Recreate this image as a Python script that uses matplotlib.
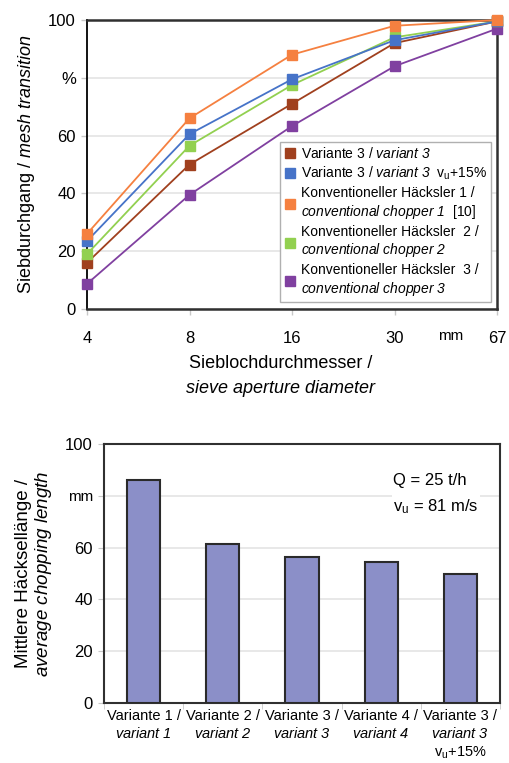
import numpy as np
import matplotlib
matplotlib.use("Agg")
import matplotlib.pyplot as plt
from matplotlib.lines import Line2D

plt.rcParams['font.family'] = ['Liberation Sans', 'DejaVu Sans']
plt.rcParams['mathtext.fontset'] = 'custom'
plt.rcParams['mathtext.rm'] = 'Liberation Sans'
plt.rcParams['mathtext.it'] = 'Liberation Sans:italic'
# sf used as an italic face that also slants the digits
plt.rcParams['mathtext.sf'] = 'Liberation Sans:italic'
plt.rcParams['mathtext.default'] = 'regular'

# --- data: sieve passing curves ---
sieve_labels = ['4', '8', '16', '30', '67']
variant3 = [16, 50, 71, 92, 99.5]
variant3_vu = [23.5, 60.5, 79.5, 93, 99.5]
chopper1 = [26, 66, 88, 98, 100]
chopper2 = [19, 56.5, 77.5, 94, 99.5]
chopper3 = [8.7, 39.5, 63.3, 84, 97]

series_names = [
    'Variante 3 / $\\mathsf{variant\\ 3}$',
    'Variante 3 / $\\mathsf{variant\\ 3}$  $\\mathrm{v}_\\mathrm{u}$+15%',
    'Konventioneller Häcksler 1 /\n$\\mathsf{conventional\\ chopper\\ 1}$  [10]',
    'Konventioneller Häcksler  2 /\n$\\mathsf{conventional\\ chopper\\ 2}$',
    'Konventioneller Häcksler  3 /\n$\\mathsf{conventional\\ chopper\\ 3}$',
]
series_values = [variant3, variant3_vu, chopper1, chopper2, chopper3]
series_colors = ['#a0401e', '#4673c8', '#f58040', '#92d050', '#8040a0']

# --- data: average chopping length ---
bar_labels = [
    'Variante 1 /\n$\\mathsf{variant\\ 1}$',
    'Variante 2 /\n$\\mathsf{variant\\ 2}$',
    'Variante 3 /\n$\\mathsf{variant\\ 3}$',
    'Variante 4 /\n$\\mathsf{variant\\ 4}$',
    'Variante 3 /\n$\\mathsf{variant\\ 3}$\n$\\mathrm{v}_\\mathrm{u}$+15%',
]
chop_length = [86, 61.5, 56.5, 54.5, 49.7]

W, H = 510, 763
fig = plt.figure(figsize=(W / 100, H / 100), dpi=100)

def px_axes(l, t, r, b):
    return fig.add_axes([l / W, 1 - b / H, (r - l) / W, (b - t) / H])

grid_c = '#e4e4e4'
spine_c = '#303030'

# ---------- top chart ----------
ax1 = px_axes(87, 20, 497, 309)
x = np.arange(len(sieve_labels))
order = [4, 0, 3, 1, 2]
for i in order:
    ax1.plot(x, series_values[i], color=series_colors[i], lw=1.3,
             marker='s', ms=6.5, mec=series_colors[i], clip_on=False, zorder=3)
ax1.set_xlim(0, 4)
ax1.set_ylim(0, 100)
ax1.set_yticks([0, 20, 40, 60, 80, 100])
ax1.set_yticklabels(['0', '20', '40', '60', '%', '100'], fontsize=12)
ax1.set_xticks(x)
ax1.set_xticklabels(sieve_labels, fontsize=12)
ax1.tick_params(axis='both', color='#c8c8c8', length=4, width=1)
ax1.tick_params(axis='x', pad=12)
ax1.tick_params(axis='y', pad=4)
ax1.yaxis.grid(True, color=grid_c, lw=1.2)
ax1.set_axisbelow(True)
for s in ax1.spines.values():
    s.set_color(spine_c)
    s.set_linewidth(1.8)
ax1.spines['left'].set_color('black')
ax1.spines['left'].set_linewidth(1.3)
ax1.text(3.55, -0.095, 'mm', transform=ax1.get_xaxis_transform(),
         ha='center', va='center', fontsize=11)
ax1.set_ylabel('Siebdurchgang / $\\mathsf{mesh\\ transition}$', fontsize=13, labelpad=8)
fig.text(281 / W, 1 - 363 / H, 'Sieblochdurchmesser /', ha='center', va='center', fontsize=13)
fig.text(281 / W, 1 - 388 / H, 'sieve aperture diameter', ha='center', va='center',
         fontsize=13, style='italic')

handles = [Line2D([], [], marker='s', ls='none', color=c, ms=6.5) for c in series_colors]
leg = ax1.legend(handles, series_names, loc='lower right', bbox_to_anchor=(0.985, 0.024),
                 borderaxespad=0, fontsize=10, frameon=True, fancybox=False,
                 edgecolor='#b0b0b0', handlelength=0.8, handletextpad=0.4,
                 labelspacing=0.28, borderpad=0.3, framealpha=1)
leg.get_frame().set_linewidth(1.0)

# ---------- bottom chart ----------
ax2 = px_axes(104, 444, 500, 703)
xb = np.arange(len(bar_labels))
ax2.bar(xb, chop_length, width=0.42, color='#8b8fc8', edgecolor='#2a2a2a', lw=1.5, zorder=3)
ax2.set_xlim(-0.5, 4.5)
ax2.set_ylim(0, 100)
ax2.set_yticks([0, 20, 40, 60, 80, 100])
ax2.set_yticklabels(['0', '20', '40', '60', 'mm', '100'], fontsize=12)
for lbl in ax2.get_yticklabels():
    if lbl.get_text() == 'mm':
        lbl.set_fontsize(11)
ax2.set_xticks(xb)
ax2.set_xticklabels(bar_labels, fontsize=10.5, linespacing=1.3, va='top')
ax2.set_xticks(np.arange(-0.5, 5, 1), minor=True)
ax2.tick_params(axis='x', which='major', length=0, pad=4)
ax2.tick_params(axis='x', which='minor', length=4, color='#c8c8c8')
ax2.tick_params(axis='y', color='#c8c8c8', length=4, pad=4)
ax2.yaxis.grid(True, color=grid_c, lw=1.2)
ax2.set_axisbelow(True)
for s in ax2.spines.values():
    s.set_color(spine_c)
    s.set_linewidth(1.5)
ax2.set_ylabel('Mittlere Häcksellänge /\n$\\mathsf{average\\ chopping\\ length}$',
               fontsize=13.5, labelpad=8, linespacing=1.1)
ax2.text(0.73, 0.86, 'Q = 25 t/h', transform=ax2.transAxes, fontsize=12,
         ha='left', va='center')
ax2.text(0.73, 0.76, '$\\mathrm{v}_\\mathrm{u}$ = 81 m/s', transform=ax2.transAxes,
         fontsize=12, ha='left', va='center',
         bbox=dict(facecolor='white', edgecolor='none', pad=1))

fig.savefig('out.png', dpi=100)
